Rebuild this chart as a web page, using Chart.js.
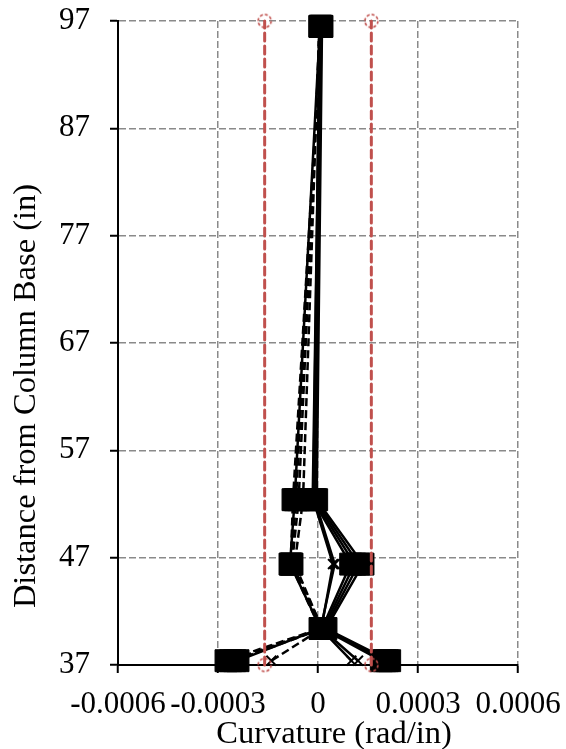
<!DOCTYPE html>
<html><head><meta charset="utf-8">
<script src="https://cdn.jsdelivr.net/npm/chart.js@4/dist/chart.umd.min.js"></script>
<style>html,body{margin:0;padding:0;background:#fff;overflow:hidden;}canvas{display:block;}</style>
</head><body>
<canvas id="c" width="566" height="749"></canvas>
<script>
// ---- data ----
const heights = [96.5, 52.4, 46.4, 40.4, 37.4];
// dashed series (negative direction), square markers
const dashedA = [0.000010, -0.000075, -0.000082, 0.000006, -0.000276];
const dashedB = [0.000008, -0.000066, -0.000080, 0.000010, -0.000262];
const dashedC = [0.000006, -0.000058, -0.000078, 0.000014, -0.000250];
// dashed series, x markers
const dashedD = [0.000004, -0.000045, -0.000070, 0.000012, -0.000140];
// solid series (positive direction), square markers
const solidA = [0.000012, -0.000004, 0.000135, 0.000024, 0.000215];
const solidB = [0.000010, -0.000008, 0.000122, 0.000020, 0.000208];
const solidC = [0.000008, -0.000012, 0.000110, 0.000016, 0.000200];
const solidD = [0.000006, -0.000016, 0.000098, 0.000012, 0.000190];
// solid series, x markers
const solidE = [0.000004, -0.000010, 0.000050, 0.000008, 0.000100];
const solidF = [0.000005, -0.000014, 0.000045, 0.000010, 0.000120];
// solid series toward negative side, square markers
const solidG = [0.000006, -0.000070, -0.000084, 0.000008, -0.000240];
// yield curvature limits
const limitCurvature = [-0.00016, 0.00016];
const limitHeights = [37, 97];
// ticks & titles
const xTickLabels = ['-0.0006', '-0.0003', '0', '0.0003', '0.0006'];
const yTickLabels = ['37', '47', '57', '67', '77', '87', '97'];
const xTitle = 'Curvature (rad/in)';
const yTitle = 'Distance from Column Base (in)';

// ---- styling / build ----
const FONT = '"Liberation Serif","Times New Roman",serif';
const RED = '#C0504D';
const toPts = xs => xs.map((x, i) => ({x: x, y: heights[i]}));

function dashedCircle(r, color) {
  const s = Math.ceil(2 * r + 4);
  const c = document.createElement('canvas');
  c.width = s; c.height = s;
  const g = c.getContext('2d');
  g.strokeStyle = color; g.lineWidth = 1.6; g.setLineDash([3, 2]);
  g.beginPath(); g.arc(s / 2, s / 2, r, 0, Math.PI * 2); g.stroke();
  return c;
}
const circ = dashedCircle(6.5, RED);

const datasets = [];
limitCurvature.forEach(v => {
  datasets.push({
    data: limitHeights.map(h => ({x: v, y: h})),
    showLine: true, borderColor: RED, borderWidth: 3, borderDash: [8, 5], borderCapStyle: 'round',
    pointStyle: circ, pointRadius: 7, clip: false
  });
});
function series(xs, dashed, marker) {
  const sq = marker === 'square';
  return {
    data: toPts(xs), showLine: true,
    borderColor: '#000', borderWidth: 2.5, borderDash: dashed ? [8, 4] : [],
    pointStyle: sq ? 'rect' : 'crossRot', pointRadius: sq ? 15.5 : 7,
    pointBorderWidth: sq ? 1 : 2, pointBackgroundColor: '#000', pointBorderColor: '#000',
    clip: false
  };
}
datasets.push(series(solidE, false, 'x'));
datasets.push(series(solidF, false, 'x'));
datasets.push(series(dashedD, true, 'x'));
datasets.push(series(solidA, false, 'square'));
datasets.push(series(solidB, false, 'square'));
datasets.push(series(solidC, false, 'square'));
datasets.push(series(solidD, false, 'square'));
datasets.push(series(solidG, false, 'square'));
datasets.push(series(dashedA, true, 'square'));
datasets.push(series(dashedB, true, 'square'));
datasets.push(series(dashedC, true, 'square'));

const axisTitles = {
  id: 'axisTitles',
  afterDraw(chart) {
    const c = chart.ctx, a = chart.chartArea;
    c.save();
    c.fillStyle = '#000';
    c.font = '32.5px ' + FONT;
    c.textAlign = 'center';
    c.textBaseline = 'alphabetic';
    c.fillText(xTitle, (a.left + a.right) / 2 + 16, chart.height - 6);
    c.translate(35, (a.top + a.bottom) / 2 + 53);
    c.rotate(-Math.PI / 2);
    c.fillText(yTitle, 0, 0);
    c.restore();
  }
};

new Chart(document.getElementById('c'), {
  type: 'scatter',
  data: {datasets},
  options: {
    responsive: false, animation: false, devicePixelRatio: 1,
    layout: {padding: {left: 0, right: 48, top: 21, bottom: 0}},
    plugins: {legend: {display: false}, tooltip: {enabled: false}},
    scales: {
      x: {
        type: 'linear', min: -0.0006, max: 0.0006,
        ticks: {stepSize: 0.0003, autoSkip: false, maxRotation: 0, minRotation: 0, padding: 13,
          color: '#000', font: {family: FONT, size: 31},
          callback: (v, i) => xTickLabels[i]},
        grid: {color: c => c.index === 0 ? 'rgba(0,0,0,0)' : '#8a8a8a', lineWidth: 1.5,
          tickColor: '#000', tickWidth: 2, tickLength: 8, tickBorderDash: []},
        border: {display: true, color: '#000', width: 2, dash: [7, 3]},
        afterFit: s => { s.height = 84; s.paddingLeft = 0; s.paddingRight = 0; }
      },
      y: {
        type: 'linear', min: 37, max: 97,
        ticks: {stepSize: 10, autoSkip: false, padding: 20,
          color: '#000', font: {family: FONT, size: 31},
          callback: (v, i) => yTickLabels[i]},
        grid: {color: c => c.index === 0 ? 'rgba(0,0,0,0)' : '#8a8a8a', lineWidth: 1.5,
          tickColor: '#000', tickWidth: 2, tickLength: 8, tickBorderDash: []},
        border: {display: true, color: '#000', width: 2, dash: [7, 3]},
        afterFit: s => { s.width = 118; s.paddingTop = 0; s.paddingBottom = 0; }
      }
    }
  },
  plugins: [axisTitles]
});
</script>
</body></html>
